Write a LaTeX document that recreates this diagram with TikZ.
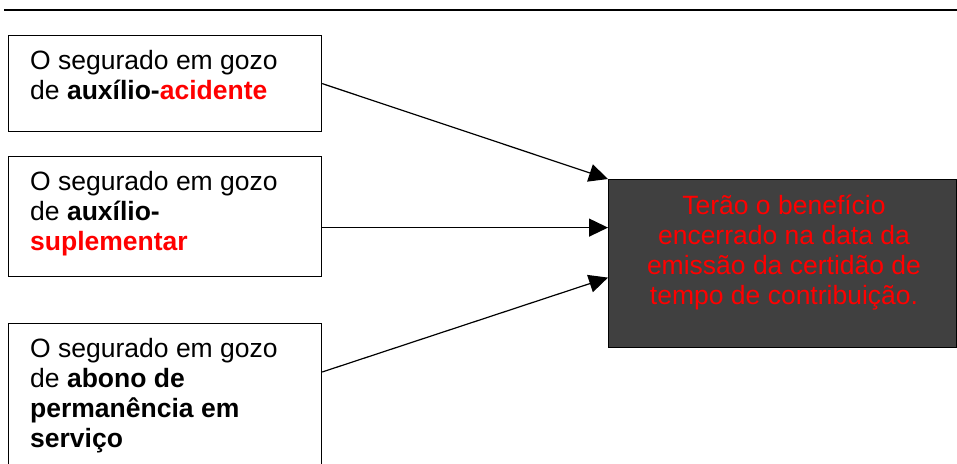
\documentclass[tikz,border=0pt]{standalone}
\usepackage{fontspec}
\setmainfont{Liberation Sans}
\usetikzlibrary{arrows.meta,calc}
\tikzset{
  leftbox/.style={draw=black,line width=1.2pt,fill=white,minimum width=313pt,inner sep=0pt,anchor=north west},
  bigbox/.style={draw=black,line width=1.2pt,fill=darkbg,minimum width=348pt,minimum height=168pt,inner sep=0pt,anchor=north west},
  boxtext/.style={inner sep=0pt,anchor=north west,align=left,font=\fontsize{26.5}{30}\selectfont},
  bigtext/.style={inner sep=0pt,anchor=north,align=center,text=red,font=\fontsize{26.5}{30}\selectfont},
  conn/.style={line width=1.2pt,-{Triangle[length=19pt,width=18pt]}},
  rule/.style={line width=1.4pt}
}
\definecolor{darkbg}{RGB}{64,64,64}
\begin{document}
\begin{tikzpicture}[x=1pt,y=-1pt]
\useasboundingbox (0,0) rectangle (957,463);
\coordinate (r1) at (4,10);
\coordinate (r2) at (957,10);
\draw[rule] (r1) -- (r2);
\node[leftbox,minimum height=96pt] (b1) at (8,35) {};
\node[leftbox,minimum height=120pt] (b2) at (8,156) {};
\node[leftbox,minimum height=170pt] (b3) at (8,323) {};
\node[bigbox] (big) at (608,179) {};
\node[boxtext] (t1) at (30,48) {\strut O segurado em gozo\\de \textbf{auxílio-\textcolor{red}{acidente}}};
\node[boxtext] (t2) at (30,169) {\strut O segurado em gozo\\de \textbf{auxílio-}\\\textcolor{red}{\textbf{suplementar}}};
\node[boxtext] (t3) at (30,336) {\strut O segurado em gozo\\de \textbf{abono de}\\\textbf{permanência em}\\\textbf{serviço}};
\node[bigtext] (t4) at (784,193) {\strut Terão o benefício\\encerrado na data da\\emissão da certidão de\\tempo de contribuição.};
\draw[conn] (b1.east) -- (big.north west);
\draw[conn] ([yshift=-11pt]b2.east) -- ([yshift=36pt]big.west);
\draw[conn] ([yshift=-49pt]b3.north east) -- ([yshift=-14pt]big.west);
\end{tikzpicture}
\end{document}
